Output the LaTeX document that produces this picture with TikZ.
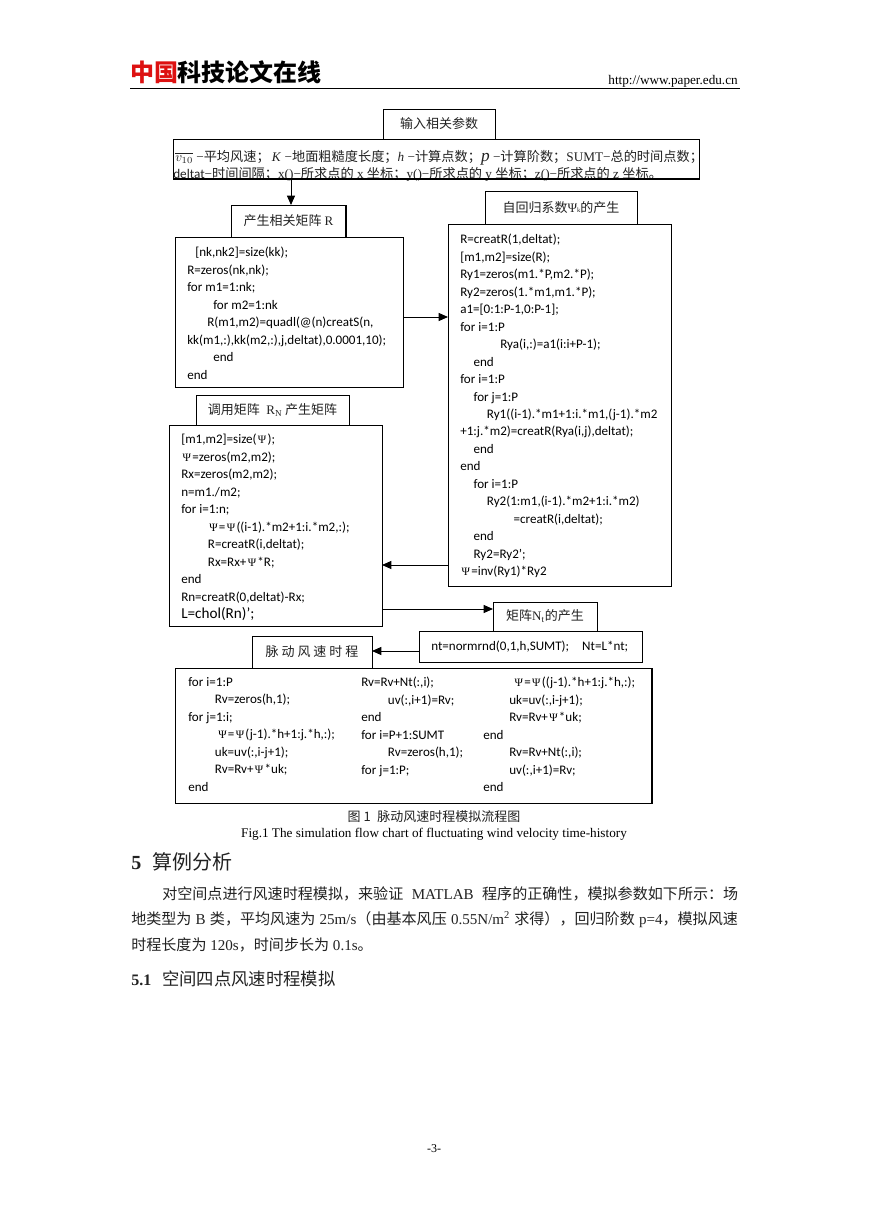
\documentclass[tikz,border=0pt]{standalone}
\usepackage{xcolor}
\usepackage{fontspec}
\usepackage{tikz}
\usetikzlibrary{arrows.meta}
\setmainfont{Liberation Serif}
\setsansfont{Carlito}
\newfontfamily\cjk{Noto Sans CJK SC}
\definecolor{ink}{HTML}{222222}
\definecolor{logored}{HTML}{DD1111}
\newcommand{\zh}[1]{{\cjk #1}}
\newcommand{\psisym}{{\kern1pt\rmfamily\fontsize{8.5}{8.5}\selectfont Ψ\kern1pt}}
\tikzset{
  flowbox/.style 2 args={draw, line width=.75pt, fill=white, inner sep=0pt, outer sep=0pt, anchor=north west, text=ink, font=\cjk\fontsize{9.75}{11}\selectfont, minimum width=#1*.75pt, minimum height=#2*.75pt},
  codetext/.style={anchor=north west, inner sep=0pt, align=left, font=\sffamily\fontsize{9.8}{13.1}\selectfont},
  linetext/.style={anchor=base west, inner sep=0pt, text=ink, font=\fontsize{11.3}{12}\selectfont},
  desctext/.style={anchor=base west, inner sep=0pt, text=ink, font=\fontsize{9.9}{11}\selectfont},
  flow/.style={line width=.75pt, -{Triangle[length=7pt,width=6pt]}},
  heavyedge/.style={line width=1.6pt}
}
\begin{document}
\begin{tikzpicture}[x=.75pt,y=-.75pt]
  \useasboundingbox[fill=white] (0,0) rectangle (868,1228);

  \node[anchor=base west, inner sep=0pt, text=logored, font=\cjk\bfseries\fontsize{18}{18}\selectfont] (logozh) at (130,81) {中国};
  \node[anchor=base west, inner sep=0pt, font=\cjk\bfseries\fontsize{18}{18}\selectfont] (logotext) at (177,81) {科技论文在线};
  \node[anchor=base east, inner sep=0pt, font=\fontsize{9.9}{11}\selectfont] (site) at (738,84) {http://www.paper.edu.cn};
  \draw[line width=.75pt] (130,88) -- (740,88);

  \node[flowbox={112}{30}] (input) at (383,109) {输入相关参数};
  \node[flowbox={526}{40}] (desc) at (173,139) {};
  \node[desctext] (descone) at (175,161) {$\overline{v_{10}}$ −\zh{平均风速；}\,\textit{K} −\zh{地面粗糙度长度；}\textit{h} −\zh{计算点数；}\textit{\fontsize{13}{13}\selectfont p} −\zh{计算阶数；}SUMT−\zh{总的时间点数；}};
  \node[desctext] (desctwo) at (173,178) {\textsf{deltat}−\zh{时间间隔；}x()−\zh{所求点的} x \zh{坐标；}y()−\zh{所求点的} y \zh{坐标；}z()−\zh{所求点的} z \zh{坐标。}};
  \draw[heavyedge] (desc.south west) -- (desc.south east);

  \node[flowbox={115}{32}] (rhead) at (231,205) {产生相关矩阵 \textrm{R}};
  \draw[heavyedge] (rhead.north east) -- (rhead.south east);
  \node[flowbox={228}{150}] (rbox) at (175,237) {};
  \node[codetext] (rcode) at (187,247) {\hspace*{6pt}{[}nk,nk2{]}=size(kk);\\
R=zeros(nk,nk);\\
for m1=1:nk;\\
\hspace*{19.5pt}for m2=1:nk\\
\hspace*{15pt}R(m1,m2)=quadl(@(n)creatS(n,\\
kk(m1,:),kk(m2,:),j,deltat),0.0001,10);\\
\hspace*{19.5pt}end\\
end};

  \node[flowbox={152}{33}] (arhead) at (485,191) {自回归系数\textrm{Ψ}{\fontsize{5}{5}\selectfont\textrm{k}}的产生};
  \node[flowbox={223}{362}] (arbox) at (448,224) {};
  \node[codetext] (arcode) at (460,234) {R=creatR(1,deltat);\\
{[}m1,m2{]}=size(R);\\
Ry1=zeros(m1.*P,m2.*P);\\
Ry2=zeros(1.*m1,m1.*P);\\
a1={[}0:1:P-1,0:P-1{]};\\
for i=1:P\\
\hspace*{30pt}Rya(i,:)=a1(i:i+P-1);\\
\hspace*{10pt}end\\
for i=1:P\\
\hspace*{10pt}for j=1:P\\
\hspace*{20pt}Ry1((i-1).*m1+1:i.*m1,(j-1).*m2\\
+1:j.*m2)=creatR(Rya(i,j),deltat);\\
\hspace*{10pt}end\\
end\\
\hspace*{10pt}for i=1:P\\
\hspace*{20pt}Ry2(1:m1,(i-1).*m2+1:i.*m2)\\
\hspace*{40pt}=creatR(i,deltat);\\
\hspace*{10pt}end\\
\hspace*{10pt}Ry2=Ry2';\\
\psisym=inv(Ry1)*Ry2};

  \node[flowbox={153}{30}] (lhead) at (196,395) {调用矩阵\enspace\textrm{R\textsubscript{N}} 产生矩阵};
  \node[flowbox={213}{201}] (lbox) at (169,425) {};
  \node[codetext] (lcode) at (181,434) {{[}m1,m2{]}=size(\psisym);\\
\psisym=zeros(m2,m2);\\
Rx=zeros(m2,m2);\\
n=m1./m2;\\
for i=1:n;\\
\hspace*{20pt}\psisym=\psisym((i-1).*m2+1:i.*m2,:);\\
\hspace*{20pt}R=creatR(i,deltat);\\
\hspace*{20pt}Rx=Rx+\psisym*R;\\
end\\
Rn=creatR(0,deltat)-Rx;\\
{\fontsize{11.4}{13.1}\selectfont L=chol(Rn)';}};

  \node[flowbox={104}{29}] (nhead) at (493,602) {矩阵\textrm{N\textsubscript{t}}的产生};
  \node[flowbox={223}{31}] (nbox) at (419,631) {};
  \node[codetext] (ncode) at (431,641) {nt=normrnd(0,1,h,SUMT);\quad Nt=L*nt;};

  \node[flowbox={120}{32}] (thead) at (252,636) {脉 动 风 速 时 程};
  \node[flowbox={477}{135}] (tbox) at (175,668) {};
  \draw[heavyedge] (tbox.north east) -- (tbox.south east);
  \node[codetext] (tcodea) at (188,677) {for i=1:P\\
\hspace*{20pt}Rv=zeros(h,1);\\
for j=1:i;\\
\hspace*{21.5pt}\psisym=\psisym(j-1).*h+1:j.*h,:);\\
\hspace*{20pt}uk=uv(:,i-j+1);\\
\hspace*{20pt}Rv=Rv+\psisym*uk;\\
end};
  \node[codetext] (tcodeb) at (361,677) {Rv=Rv+Nt(:,i);\\
\hspace*{20pt}uv(:,i+1)=Rv;\\
end\\
for i=P+1:SUMT\\
\hspace*{20pt}Rv=zeros(h,1);\\
for j=1:P;};
  \node[codetext] (tcodec) at (483,677) {\hspace*{22.5pt}\psisym=\psisym((j-1).*h+1:j.*h,:);\\
\hspace*{19.5pt}uk=uv(:,i-j+1);\\
\hspace*{19.5pt}Rv=Rv+\psisym*uk;\\
end\\
\hspace*{19.5pt}Rv=Rv+Nt(:,i);\\
\hspace*{19.5pt}uv(:,i+1)=Rv;\\
end};

  \draw[flow] (desc.south -| 291,0) -- (rhead.north -| 291,0);
  \draw[flow] (rbox.east |- 0,317) -- (arbox.west |- 0,317);
  \draw[flow] (arbox.west |- 0,565) -- (lbox.east |- 0,565);
  \draw[flow] (lbox.east |- 0,609) -- (nhead.west |- 0,609);
  \draw[flow] (nbox.west |- 0,651) -- (thead.east |- 0,651);

  \node[anchor=base, inner sep=0pt, text=ink, font=\cjk\fontsize{9.75}{11}\selectfont] (capzh) at (434,821) {图 1\enspace 脉动风速时程模拟流程图};
  \node[anchor=base, inner sep=0pt, font=\fontsize{9.9}{11}\selectfont] (capen) at (434,837) {Fig.1 The simulation flow chart of fluctuating wind velocity time-history};

  \node[linetext, font=\bfseries\fontsize{15}{16}\selectfont] (secnum) at (131,869) {5};
  \node[linetext, font=\cjk\fontsize{15}{16}\selectfont] (sectitle) at (152,869) {算例分析};
  \node[linetext] (paraone) at (162,899) {\makebox[432pt][s]{\zh{对空间点进行风速时程模拟，来验证} MATLAB \zh{程序的正确性，模拟参数如下所示：场}}};
  \node[linetext] (paratwo) at (131,924) {\makebox[455pt][s]{\zh{地类型为} B \zh{类，平均风速为} 25m/s\zh{（由基本风压} 0.55N/m\textsuperscript{2} \zh{求得），回归阶数} p=4\zh{，模拟风速}}};
  \node[linetext] (parathree) at (131,950) {\zh{时程长度为} 120s\zh{，时间步长为} 0.1s\zh{。}};
  \node[linetext, font=\bfseries\fontsize{12}{14}\selectfont] (subnum) at (131,985) {5.1};
  \node[linetext, font=\cjk\fontsize{13}{15}\selectfont] (subtitle) at (162,985) {空间四点风速时程模拟};
  \node[anchor=base, inner sep=0pt, font=\fontsize{9}{11}\selectfont] (pageno) at (434,1152) {-3-};
\end{tikzpicture}
\end{document}
